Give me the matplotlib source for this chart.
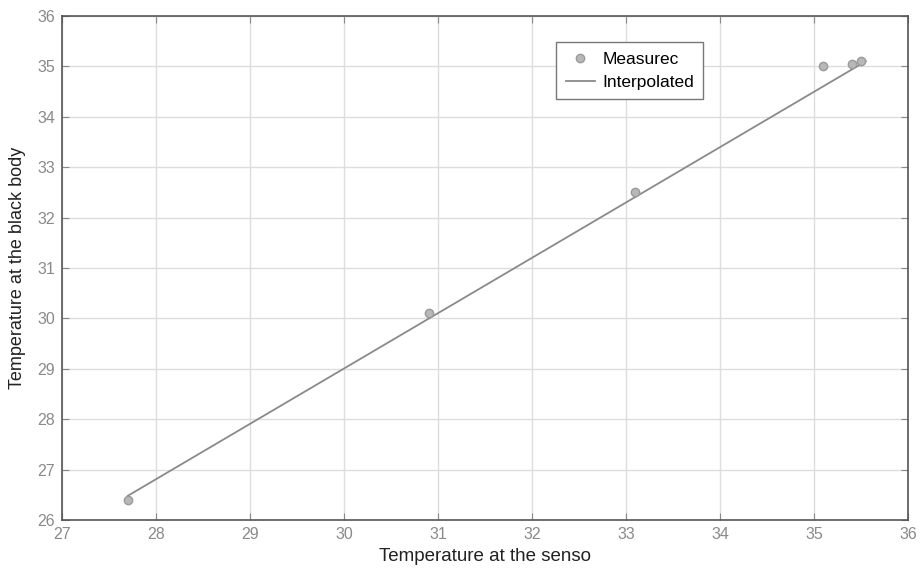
import matplotlib
matplotlib.use('Agg')
import matplotlib.pyplot as plt
import numpy as np

plt.rcParams['font.family'] = ['Liberation Sans', 'DejaVu Sans']

# measured calibration points (sensor temp, black body temp)
measured_x = [27.7, 30.9, 33.1, 35.1, 35.4, 35.5]
measured_y = [26.4, 30.1, 32.5, 35.0, 35.05, 35.1]

# interpolated line end points
interp_x = [27.7, 35.55]
interp_y = [26.48, 35.1]

x_ticks = np.arange(27, 37, 1)
y_ticks = np.arange(26, 37, 1)


def main():
    fig = plt.figure(figsize=(9.21, 5.69), dpi=100)
    ax = fig.add_axes([0.0673, 0.0861, 0.9187, 0.8859])

    ax.plot(measured_x, measured_y, 'o', color='#b8b8b8', markersize=6,
            markeredgecolor='#9a9a9a', label='Measurec', zorder=3)
    ax.plot(interp_x, interp_y, '-', color='#8a8a8a', linewidth=1.3,
            label='Interpolated', zorder=2)

    ax.set_xlim(27, 36)
    ax.set_ylim(26, 36)
    ax.set_xticks(x_ticks)
    ax.set_yticks(y_ticks)
    ax.tick_params(direction='in', length=5, colors='#8a8a8a', labelsize=11.5,
                   top=True, right=True, pad=5)
    ax.grid(True, color='#dddddd', linewidth=1.0)
    ax.set_axisbelow(True)
    for s in ax.spines.values():
        s.set_color('#555555')
        s.set_linewidth(1.2)

    ax.set_xlabel('Temperature at the senso', fontsize=13.5, color='#222222',
                  labelpad=4)
    ax.set_ylabel('Temperature at the black body', fontsize=13, color='#222222',
                  labelpad=8)

    leg = ax.legend(loc='upper left', bbox_to_anchor=(0.584, 0.948),
                    fontsize=12.5, fancybox=False, framealpha=1,
                    edgecolor='#777777', handlelength=1.7, handletextpad=0.4,
                    borderpad=0.55, labelspacing=0.45, borderaxespad=0)
    leg.get_frame().set_linewidth(1.0)

    fig.savefig('out.png', dpi=100)


if __name__ == '__main__':
    main()
